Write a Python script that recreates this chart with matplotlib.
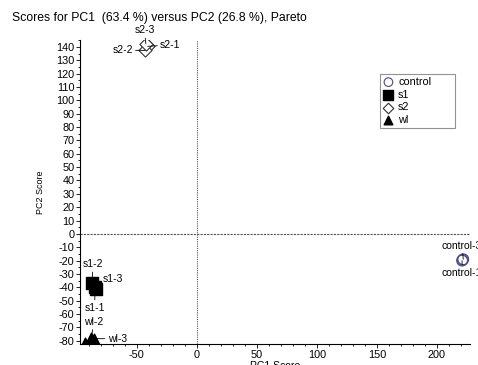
import numpy as np
import matplotlib.pyplot as plt
from matplotlib.ticker import MultipleLocator

plt.rcParams['font.family'] = ['Liberation Sans', 'DejaVu Sans']
plt.rcParams['axes.unicode_minus'] = False

# スコア (PC1, PC2)
control_x = [221, 222, 221.5]
control_y = [-20, -19, -19.5]
control_lab = ['control-1', 'control-3', 'control-2']
s1_x = [-85, -87.5, -84]
s1_y = [-40, -37, -41]
s1_lab = ['s1-1', 's1-2', 's1-3']
s2_x = [-41, -43, -42.5]
s2_y = [140.5, 137.5, 142.5]
s2_lab = ['s2-1', 's2-2', 's2-3']
wl_x = [-93, -88, -86]
wl_y = [-82, -78, -78.5]
wl_lab = ['wl-1', 'wl-2', 'wl-3']

fig = plt.figure(figsize=[4.78, 3.65], dpi=100)
ax = fig.add_axes([0.167, 0.0575, 0.816, 0.832])
ax.set_xlim(-97.5, 227.5)
ax.set_ylim(-82.5, 145)

ax.axvline(0, color='#555555', ls=(0, (1, 1)), lw=0.8, zorder=1)
ax.axhline(0, color='#555555', ls=(0, (2, 1)), lw=0.8, zorder=1)

ax.scatter(control_x, control_y, marker='o', s=60, facecolor='none', edgecolor='#4a4a8a', lw=0.8, label='control', zorder=3)
ax.scatter(s1_x, s1_y, marker='s', s=70, facecolor='black', edgecolor='black', label='s1', zorder=3)
ax.scatter(s2_x, s2_y, marker='D', s=45, facecolor='white', edgecolor='#333333', lw=0.8, label='s2', zorder=3)
ax.scatter(wl_x, wl_y, marker='^', s=60, facecolor='black', edgecolor='black', label='wl', zorder=3)

# ラベル (テキスト位置はオフセット)
def tag(x, y, t, dx, dy, ha='center', va='center'):
    ax.annotate(t, (x, y), xytext=(dx, dy), textcoords='offset points', fontsize=7.5,
                ha=ha, va=va, arrowprops=dict(arrowstyle='-', lw=0.6, color='black', shrinkA=0, shrinkB=0),
                annotation_clip=False, zorder=4)

tag(s2_x[0], s2_y[0], s2_lab[0], 9, 1, ha='left')
tag(s2_x[1], s2_y[1], s2_lab[1], -9, 0, ha='right')
tag(s2_x[2], s2_y[2], s2_lab[2], -1, 6, va='bottom')
tag(s1_x[1], s1_y[1], s1_lab[1], 1, 10, va='bottom')
tag(s1_x[2], s1_y[2], s1_lab[2], 5, 7, ha='left')
tag(s1_x[0], s1_y[0], s1_lab[0], 0, -11, va='top')
tag(wl_x[1], wl_y[1], wl_lab[1], 2, 8, va='bottom')
tag(wl_x[2], wl_y[2], wl_lab[2], 10, 0, ha='left')
tag(control_x[1], control_y[1], control_lab[1], -1, 6, va='bottom')
tag(control_x[0], control_y[0], control_lab[0], 0, -5, va='top')

ax.spines['top'].set_visible(False)
ax.spines['right'].set_visible(False)
ax.spines['left'].set_linewidth(0.8)
ax.spines['bottom'].set_linewidth(0.8)

ax.set_yticks(np.arange(-80, 141, 10))
ax.yaxis.set_minor_locator(MultipleLocator(5))
ax.xaxis.set_major_locator(MultipleLocator(50))
ax.xaxis.set_minor_locator(MultipleLocator(10))
ax.tick_params(axis='both', which='major', labelsize=7.8, length=3, width=0.6, pad=1)
ax.tick_params(axis='both', which='minor', length=1.5, width=0.6)

ax.set_xlabel('PC1 Score', fontsize=7.5, labelpad=1)
ax.set_ylabel('PC2 Score', fontsize=6.5, labelpad=8)
fig.text(0.025, 0.952, 'Scores for PC1  (63.4 %) versus PC2 (26.8 %), Pareto', fontsize=8.8, va='center')

leg = ax.legend(loc='upper left', bbox_to_anchor=(0.769, 0.5, 0.192, 0.39), mode='expand', fontsize=7.8,
                frameon=True, fancybox=False, edgecolor='#777777', borderpad=0.3, labelspacing=0.25,
                handletextpad=0.4, handlelength=1.0, borderaxespad=0, markerscale=0.8)
leg.get_frame().set_linewidth(0.8)

fig.savefig('out.png', dpi=100)
plt.close()
